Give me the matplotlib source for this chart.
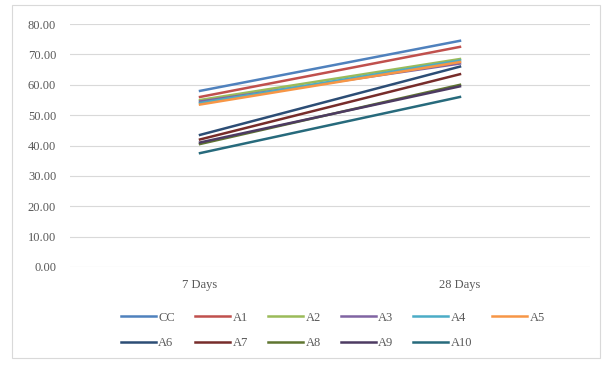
import matplotlib.pyplot as plt
from matplotlib.patches import Rectangle

# Strength at two curing ages for each mix
ages = ["7 Days", "28 Days"]
mixes = ["CC", "A1", "A2", "A3", "A4", "A5", "A6", "A7", "A8", "A9", "A10"]
day7 = [58.0, 56.0, 55.0, 54.5, 54.0, 53.5, 43.5, 42.0, 40.5, 41.0, 37.5]
day28 = [74.5, 72.5, 68.5, 67.0, 68.0, 67.5, 66.0, 63.5, 60.0, 59.5, 56.0]
colors = ["#4F81BD", "#C0504D", "#9BBB59", "#8064A2", "#4BACC6", "#F79646",
          "#2C4D75", "#772C2A", "#5F7530", "#4D3B62", "#276A7C"]
yticks = [0, 10, 20, 30, 40, 50, 60, 70, 80]

plt.rcParams['font.family'] = ['Liberation Serif', 'DejaVu Serif']

fig = plt.figure(figsize=(6.11, 3.65), dpi=100)
fig.patches.append(Rectangle((0.02, 0.02), 0.962, 0.965, transform=fig.transFigure,
                             fill=False, edgecolor="#d9d9d9", linewidth=0.8))

ax = fig.add_axes([0.1146, 0.2685, 0.851, 0.6655])
x = range(len(ages))
lines = []
for name, a, b, c in zip(mixes, day7, day28, colors):
    ln, = ax.plot(x, [a, b], color=c, linewidth=1.8, label=name)
    lines.append(ln)

ax.set_xlim(-0.5, 1.5)
ax.set_ylim(0, 80)
ax.set_yticks(yticks)
ax.set_yticklabels([f"{v:.2f}" for v in yticks])
ax.set_xticks(list(x))
ax.set_xticklabels(ages)
ax.tick_params(length=0, labelsize=9, labelcolor="#595959")
ax.tick_params(axis="y", pad=10)
ax.tick_params(axis="x", pad=9)
ax.grid(axis="y", color="#d9d9d9", linewidth=0.8)
ax.set_axisbelow(True)
for s in ax.spines.values():
    s.set_visible(False)

# legend fills column by column, so interleave the two rows
ncol = 6
order = []
for i in range(ncol):
    order.append(i)
    if i + ncol < len(lines):
        order.append(i + ncol)
leg = fig.legend([lines[i] for i in order], [mixes[i] for i in order],
                 loc="upper center", bbox_to_anchor=(0.545, 0.16), ncol=ncol, frameon=False,
                 fontsize=9, handlelength=2.8, handletextpad=0.2, columnspacing=1.6,
                 labelspacing=1.1, borderaxespad=0)
for t in leg.get_texts():
    t.set_color("#595959")

fig.savefig("out.png", dpi=100)
